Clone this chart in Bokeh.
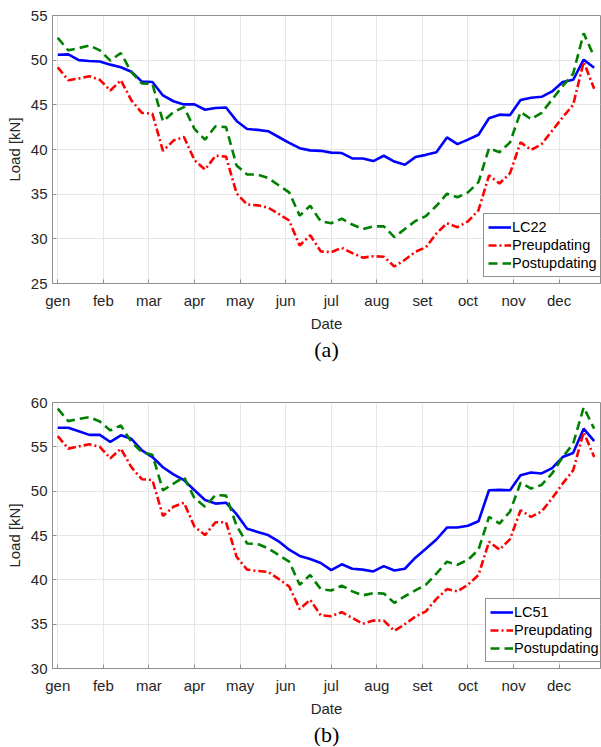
from bokeh.plotting import figure
from bokeh.models import FixedTicker, Title, Range1d, Legend, LegendItem
from bokeh.layouts import column
from bokeh.embed import file_html
from bokeh.resources import INLINE

months = ["gen", "feb", "mar", "apr", "may", "jun", "jul", "aug", "set", "oct", "nov", "dec"]
weeks = list(range(52))

lc22 = [50.6, 50.65, 50.0, 49.9, 49.85, 49.5, 49.2, 48.7, 47.6, 47.55, 46.05, 45.4, 45.05, 45.05,
        44.45, 44.65, 44.7, 43.2, 42.3, 42.2, 42.05, 41.4, 40.75, 40.15, 39.9, 39.85, 39.65, 39.6,
        39.0, 39.0, 38.7, 39.3, 38.65, 38.3, 39.15, 39.4, 39.7, 41.35, 40.6, 41.1, 41.65, 43.5,
        43.9, 43.85, 45.55, 45.8, 45.9, 46.5, 47.55, 47.8, 50.05, 49.15]
pre_a = [49.2, 47.75, 47.95, 48.2, 47.8, 46.6, 47.75, 45.5, 44.1, 44.0, 39.85, 41.0, 41.4, 38.8,
         37.75, 39.3, 39.2, 35.1, 33.85, 33.75, 33.5, 32.8, 32.05, 29.25, 30.4, 28.6, 28.5, 29.0,
         28.4, 27.9, 28.05, 28.0, 26.9, 27.65, 28.55, 29.05, 30.6, 31.75, 31.3, 31.95, 33.2, 37.1,
         36.2, 37.35, 40.8, 39.95, 40.6, 42.1, 43.6, 45.0, 49.8, 46.8]
post_a = [52.5, 51.1, 51.35, 51.65, 51.1, 49.95, 50.8, 48.65, 47.4, 47.35, 43.15, 44.2, 44.75, 42.3,
          41.1, 42.6, 42.5, 38.2, 37.2, 37.2, 36.8, 36.0, 35.2, 32.6, 33.7, 31.95, 31.75, 32.25,
          31.6, 31.1, 31.4, 31.4, 30.2, 31.1, 32.0, 32.55, 33.7, 35.05, 34.65, 35.2, 36.35, 40.15,
          39.7, 40.8, 44.2, 43.4, 44.1, 45.6, 47.1, 48.5, 53.0, 50.4]

lc51 = [57.15, 57.15, 56.75, 56.35, 56.35, 55.55, 56.3, 55.9, 54.6, 53.85, 52.7, 51.9, 51.25, 50.1,
        49.0, 48.6, 48.7, 47.4, 45.75, 45.4, 45.05, 44.35, 43.4, 42.7, 42.35, 41.9, 41.1, 41.75,
        41.25, 41.15, 40.95, 41.55, 41.05, 41.25, 42.5, 43.5, 44.55, 45.9, 45.9, 46.1, 46.6, 50.1,
        50.15, 50.1, 51.8, 52.1, 52.0, 52.6, 53.85, 54.3, 57.05, 55.65]
pre_b = [56.2, 54.8, 55.05, 55.3, 55.0, 53.7, 54.8, 52.7, 51.35, 51.25, 47.2, 48.25, 48.7, 46.0,
         45.05, 46.5, 46.5, 42.6, 41.15, 41.0, 40.9, 40.1, 39.25, 36.7, 37.75, 36.0, 35.9, 36.35,
         35.7, 35.05, 35.4, 35.4, 34.25, 35.0, 35.85, 36.45, 37.85, 38.95, 38.7, 39.45, 40.55, 44.3,
         43.4, 44.6, 47.85, 47.1, 47.7, 49.2, 50.85, 52.35, 56.65, 53.85]
post_b = [59.3, 57.9, 58.15, 58.35, 57.85, 56.85, 57.4, 55.55, 54.4, 54.1, 50.1, 50.85, 51.6, 49.2,
          48.25, 49.55, 49.5, 46.1, 44.1, 44.05, 43.55, 42.8, 42.05, 39.45, 40.55, 38.95, 38.8, 39.35,
          38.7, 38.25, 38.5, 38.45, 37.4, 38.15, 38.8, 39.45, 40.7, 42.05, 41.7, 42.25, 43.4, 47.1,
          46.35, 47.7, 50.95, 50.3, 50.7, 52.0, 53.85, 55.35, 59.45, 57.05]

month_ticks = [m * 52 / 12 for m in range(12)]
FONT = "Liberation Sans"
AX = "#8f8f8f"
TXT = "#262626"


def make(lc, pre, post, lcname, ylo, yhi, caption, height, top, bottom, left, leg_loc):
    p = figure(width=601, height=height, output_backend="svg", toolbar_location=None,
               x_range=Range1d(-0.5, 51.6), y_range=Range1d(ylo, yhi),
               min_border_left=left, min_border_right=1, min_border_top=top,
               min_border_bottom=bottom)
    p.outline_line_color = AX
    p.outline_line_width = 1
    r1 = p.line(weeks, lc, line_color="#0000ff", line_width=2.6)
    r2 = p.line(weeks, pre, line_color="#ff0000", line_width=2.6, line_dash="8 3 2 3")
    r3 = p.line(weeks, post, line_color="#008000", line_width=2.6, line_dash="9 5")

    p.xaxis.ticker = FixedTicker(ticks=month_ticks)
    p.xaxis.major_label_overrides = {t: m for t, m in zip(month_ticks, months)}
    p.yaxis.ticker = FixedTicker(ticks=list(range(ylo, yhi + 1, 5)))
    for ax in (p.xaxis, p.yaxis):
        ax.axis_line_color = AX
        ax.major_tick_line_color = AX
        ax.major_tick_in = 4
        ax.major_tick_out = 0
        ax.minor_tick_line_color = None
        ax.major_label_text_font = FONT
        ax.major_label_text_font_size = "15px"
        ax.major_label_text_color = TXT
        ax.axis_label_text_font = FONT
        ax.axis_label_text_font_size = "15px"
        ax.axis_label_text_font_style = "normal"
        ax.axis_label_text_color = TXT
    p.xaxis.axis_label = "Date"
    p.yaxis.axis_label = "Load [kN]"
    p.xaxis.major_label_standoff = 8
    p.xaxis.axis_label_standoff = 3
    p.yaxis.major_label_standoff = 5
    p.yaxis.axis_label_standoff = 5
    p.grid.grid_line_color = "#e6e6e6"
    p.grid.grid_line_width = 1

    legend = Legend(items=[LegendItem(label=lcname, renderers=[r1]),
                           LegendItem(label="Preupdating", renderers=[r2]),
                           LegendItem(label="Postupdating", renderers=[r3])],
                    location=leg_loc)
    legend.label_text_font = FONT
    legend.label_text_font_size = "14.5px"
    legend.label_text_color = "#000000"
    legend.glyph_width = 23
    legend.glyph_height = 18
    legend.label_height = 18
    legend.label_standoff = 1
    legend.spacing = 0
    legend.padding = 4
    legend.margin = 0
    legend.border_line_color = "#262626"
    legend.border_line_width = 1
    legend.background_fill_alpha = 1
    p.add_layout(legend, "center")

    p.add_layout(Title(text=caption, align="center", text_font="Liberation Serif",
                       text_font_size="22px", text_font_style="normal", text_color="#000000",
                       standoff=0, offset=0), "below")
    return p


pa = make(lc22, pre_a, post_a, "LC22", 25, 55, "(a)", 380, 15, 97, 50, (431, 6))
pb = make(lc51, pre_b, post_b, "LC51", 30, 60, "(b)", 366, 22, 77, 52, (433, 6))

page = column(pa, pb, spacing=0)
open("out.html", "w").write(file_html(page, INLINE))
